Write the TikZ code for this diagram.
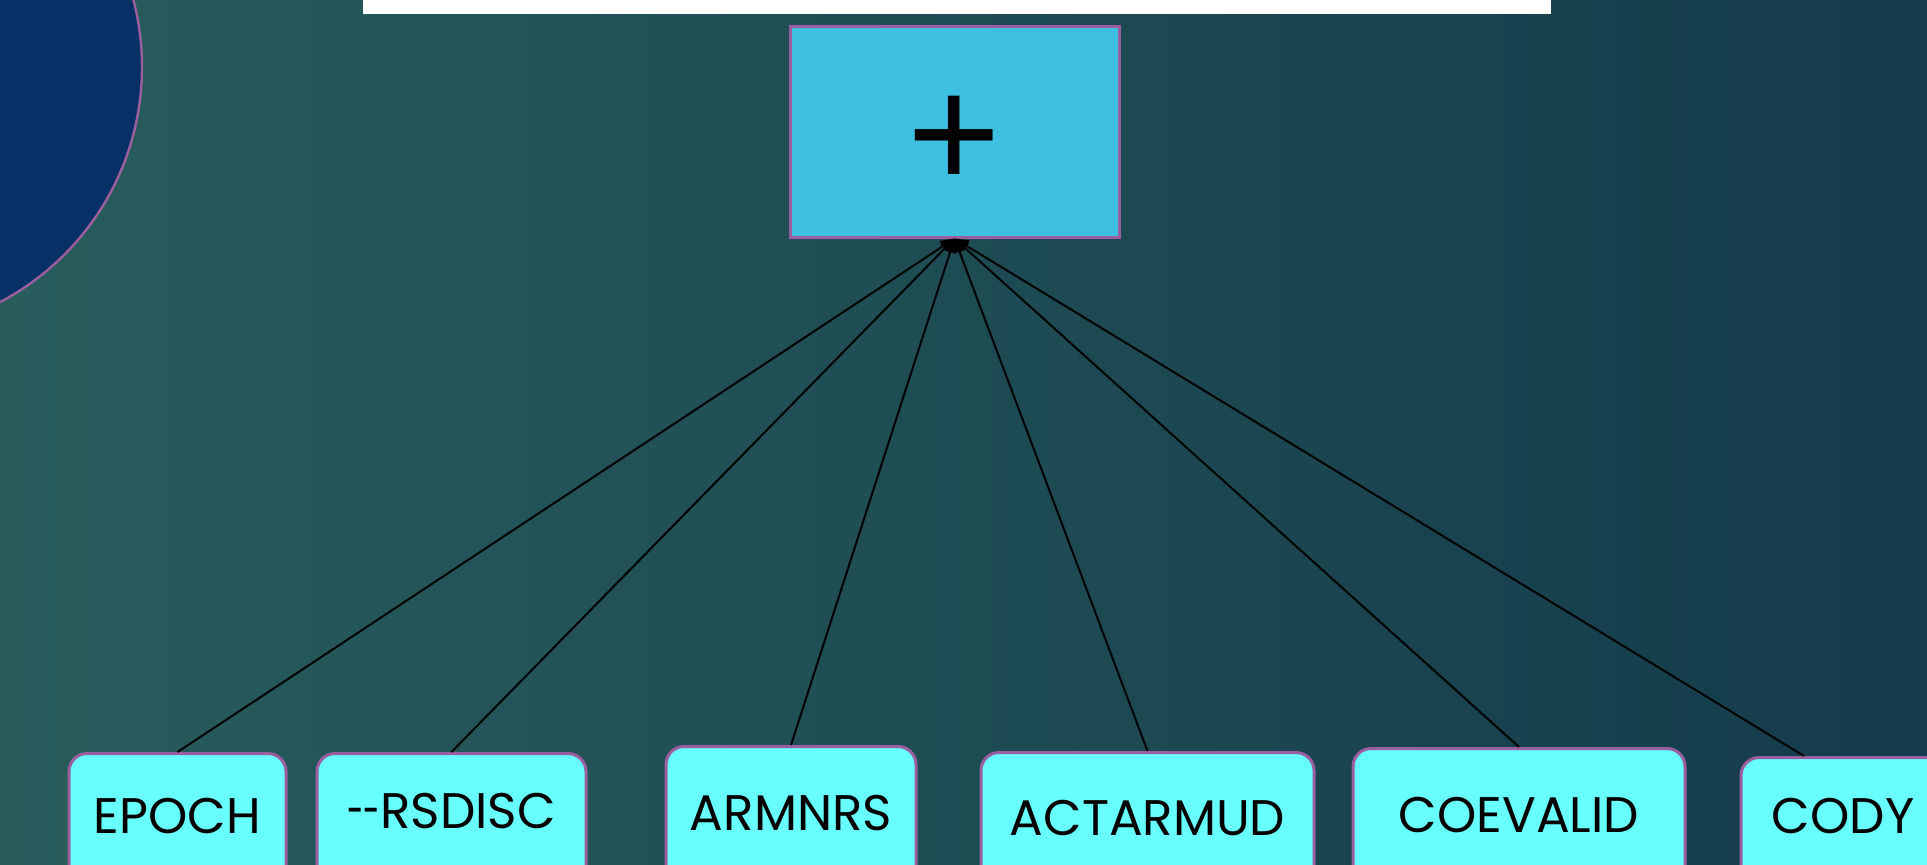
\documentclass[tikz,border=0pt]{standalone}
\usepackage{fontspec}
\setmainfont{Poppins}
\newfontfamily\plusfont{Liberation Sans}
\usetikzlibrary{arrows.meta}
\definecolor{bgL}{RGB}{40,93,92}
\definecolor{bgR}{RGB}{20,59,75}
\definecolor{purp}{RGB}{155,94,158}
\definecolor{ovalblue}{RGB}{7,48,102}
\definecolor{topcyan}{RGB}{62,193,224}
\definecolor{leafcyan}{RGB}{104,255,255}
\tikzset{
  topbox/.style={draw=purp, line width=1.5pt, fill=topcyan, inner sep=0pt,
    minimum width=164.5pt, minimum height=105.5pt, text height=57pt, text depth=0pt,
    font=\plusfont\fontsize{80pt}{80pt}\selectfont},
  leaf/.style={draw=purp, line width=1.5pt, fill=leafcyan, rounded corners=9pt,
    anchor=north, inner xsep=0pt, text height=17.5pt, text depth=60pt,
    font=\fontsize{25pt}{30pt}\selectfont},
  conn/.style={draw=black, line width=1pt, -{Triangle[length=7pt,width=6pt]}},
  oval/.style={draw=purp, line width=1.2pt, fill=ovalblue}
}
\begin{document}
\begin{tikzpicture}[x=0.5pt,y=-0.5pt]
\useasboundingbox (0,0) rectangle (1927,864);
\clip (0,0) rectangle (1927,864);
\shade[left color=bgL,right color=bgR] (0,0) rectangle (1927,864);
\draw[oval] (-123.5,67) circle[radius=265.5];
\fill[white] (363,0) rectangle (1551,14);
\node[topbox] (top) at (954.5,131.5) {+};
\node[leaf, minimum width=108.5pt, inner ysep=22.5pt] (epoch) at (177.5,752) {EPOCH};
\node[leaf, minimum width=134.5pt, inner ysep=20pt] (rsdisc) at (451.5,752) {\scalebox{0.6}[1]{-{}-}RSDISC};
\node[leaf, minimum width=125pt, inner ysep=24.5pt] (armnrs) at (791,745) {ARMNRS};
\node[leaf, minimum width=166.5pt, inner ysep=24pt] (actarmud) at (1147.5,751) {ACTARMUD};
\node[leaf, minimum width=166pt, inner ysep=24.5pt] (coevalid) at (1519,747) {COEVALID};
\node[leaf, minimum width=102pt, inner ysep=20.5pt] (cody) at (1843,756) {CODY};
\draw[conn] (epoch.north) -- (top.south);
\draw[conn] (rsdisc.north) -- (top.south);
\draw[conn] (armnrs.north) -- (top.south);
\draw[conn] (actarmud.north) -- (top.south);
\draw[conn] (coevalid.north) -- (top.south);
\draw[conn] ([xshift=-19.5pt]cody.north) -- (top.south);
\end{tikzpicture}
\end{document}
